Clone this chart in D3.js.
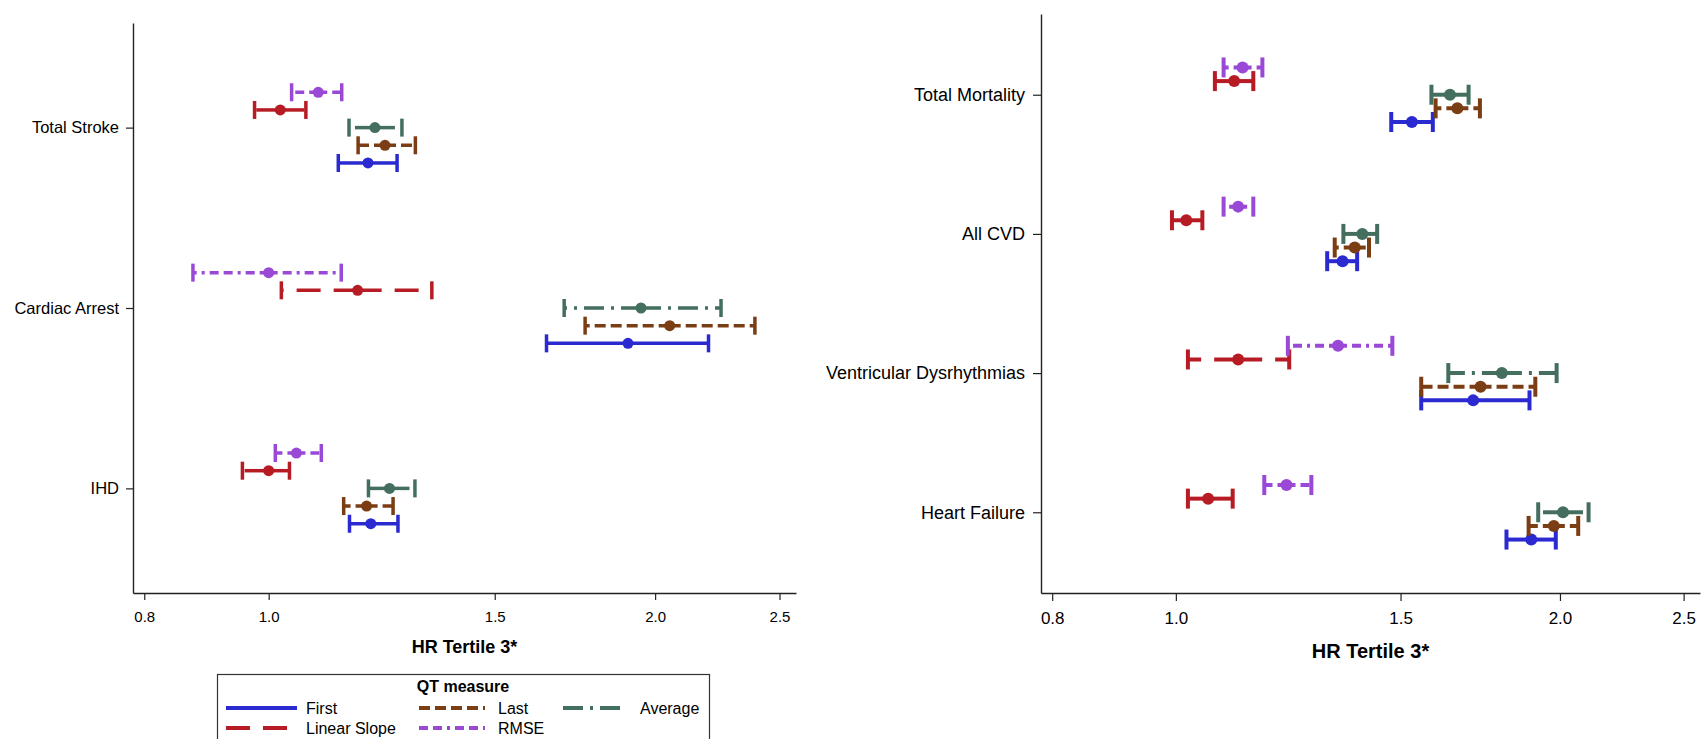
<!DOCTYPE html>
<html>
<head>
<meta charset="utf-8">
<script src="https://cdn.jsdelivr.net/npm/d3@7"></script>
<style>
  body { margin: 0; background: #fff; }
  svg { display: block; }
  text { font-family: "Liberation Sans", Arial, sans-serif; fill: #000; }
</style>
</head>
<body>
<svg width="1703" height="739"></svg>
<script>
const svg = d3.select('svg');

// Hazard ratios: each row is [HR, lower CI, upper CI]
const leftCategories  = ['Total Stroke', 'Cardiac Arrest', 'IHD'];
const rightCategories = ['Total Mortality', 'All CVD', 'Ventricular Dysrhythmias', 'Heart Failure'];
const xTicks   = [0.8, 1.0, 1.5, 2.0, 2.5];
const measures = ['First', 'Last', 'Average', 'Linear Slope', 'RMSE'];

const leftFirst   = [[1.195, 1.133, 1.259], [1.905, 1.646, 2.201], [1.201, 1.156, 1.261]];
const leftLast    = [[1.232, 1.174, 1.301], [2.053, 1.764, 2.392], [1.192, 1.144, 1.250]];
const leftAverage = [[1.210, 1.155, 1.270], [1.950, 1.699, 2.251], [1.242, 1.196, 1.300]];
const leftSlope   = [[1.021, 0.975, 1.069], [1.173, 1.023, 1.340], [1.000, 0.954, 1.038]];
const leftRmse    = [[1.093, 1.042, 1.140], [1.000, 0.873, 1.139], [1.051, 1.012, 1.099]];

const rightFirst   = [[1.531, 1.475, 1.590], [1.351, 1.314, 1.387], [1.710, 1.557, 1.893], [1.899, 1.816, 1.985]];
const rightLast    = [[1.662, 1.598, 1.731], [1.381, 1.332, 1.417], [1.733, 1.557, 1.913], [1.978, 1.890, 2.067]];
const rightAverage = [[1.640, 1.586, 1.696], [1.400, 1.353, 1.438], [1.801, 1.635, 1.988], [2.011, 1.923, 2.106]];
const rightSlope   = [[1.111, 1.073, 1.150], [1.019, 0.993, 1.049], [1.119, 1.022, 1.227], [1.060, 1.022, 1.108]];
const rightRmse    = [[1.128, 1.090, 1.169], [1.119, 1.090, 1.150], [1.340, 1.224, 1.478], [1.221, 1.173, 1.277]];

// Line look of each QT measure (slot = vertical position inside a category, top to bottom)
const styles = {
  'First':        { color: '#2a2ad0', dash: null,             slot: 2 },
  'Last':         { color: '#7b3d14', dash: '11,5',           slot: 1 },
  'Average':      { color: '#446e5d', dash: '20,7,3,7',       slot: 0 },
  'Linear Slope': { color: '#b71c25', dash: '24,13',          slot: -1 },
  'RMSE':         { color: '#9a48d6', dash: '9,5,9,5,3,5',    slot: -2 }
};

/** - - - - - - - - - - - - - - - - - - - - - - - - - - - - - -
 * One forest-plot panel
 ** - - - - - - - - - - - - - - - - - - - - - - - - - - - - - - */
function drawPanel(p) {
  const x = d3.scaleLog().domain([0.784, 2.575]).range(p.xRange);
  const y = d3.scalePoint().domain(p.categories).range(p.yRange).padding(0.58);
  const shift = y.step() * 0.098;

  const g = svg.append('g');

  // axes
  const xAxisG = g.append('g')
    .attr('transform', `translate(0,${p.yRange[1]})`)
    .call(d3.axisBottom(x).tickValues(xTicks).tickFormat(d3.format('.1f'))
      .tickSize(p.tick).tickPadding(p.tickPadX).tickSizeOuter(0));
  const yAxisG = g.append('g')
    .attr('transform', `translate(${p.xRange[0]},0)`)
    .call(d3.axisLeft(y).tickSize(p.tick).tickPadding(p.tickPadY).tickSizeOuter(0));

  [xAxisG, yAxisG].forEach(a => {
    a.select('.domain').attr('stroke', '#222').attr('stroke-width', 1.4);
    a.selectAll('.tick line').attr('stroke', '#222').attr('stroke-width', 1.2);
    a.selectAll('text').attr('fill', '#000').style('font-family', '"Liberation Sans", Arial, sans-serif');
  });
  xAxisG.selectAll('text').style('font-size', p.tickFont + 'px');
  yAxisG.selectAll('text').style('font-size', p.catFont + 'px');

  g.append('text')
    .attr('x', (p.xRange[0] + p.xRange[1]) / 2)
    .attr('y', p.labelY)
    .attr('text-anchor', 'middle')
    .style('font-size', p.labelFont + 'px')
    .style('font-weight', 'bold')
    .text('HR Tertile 3*');

  // error bars
  measures.forEach(m => {
    const st = styles[m];
    const rows = p.series[m].map((d, i) => ({ cat: p.categories[i], hr: d[0], lo: d[1], hi: d[2] }));
    const sg = g.append('g').attr('stroke', st.color).attr('fill', st.color);

    rows.forEach(d => {
      const cy = y(d.cat) + st.slot * shift;
      [d.lo, d.hi].forEach(end => {
        sg.append('line')
          .attr('x1', x(d.hr)).attr('x2', x(end))
          .attr('y1', cy).attr('y2', cy)
          .attr('stroke-width', p.lw)
          .attr('stroke-dasharray', st.dash);
        sg.append('line')
          .attr('x1', x(end)).attr('x2', x(end))
          .attr('y1', cy - p.cap).attr('y2', cy + p.cap)
          .attr('stroke-width', p.lw);
      });
      sg.append('circle')
        .attr('cx', x(d.hr)).attr('cy', cy)
        .attr('r', p.r).attr('stroke', 'none');
    });
  });
}

drawPanel({
  categories: leftCategories,
  series: { 'First': leftFirst, 'Last': leftLast, 'Average': leftAverage, 'Linear Slope': leftSlope, 'RMSE': leftRmse },
  xRange: [133, 796], yRange: [23, 593],
  tick: 7, tickPadX: 11, tickPadY: 7,
  tickFont: 15, catFont: 16.5, labelFont: 18, labelY: 653,
  lw: 3.5, cap: 9, r: 5.5
});

drawPanel({
  categories: rightCategories,
  series: { 'First': rightFirst, 'Last': rightLast, 'Average': rightAverage, 'Linear Slope': rightSlope, 'RMSE': rightRmse },
  xRange: [1041, 1700], yRange: [14, 593],
  tick: 8, tickPadX: 11, tickPadY: 8,
  tickFont: 17, catFont: 18, labelFont: 20, labelY: 658,
  lw: 4, cap: 10, r: 6
});

/** - - - - - - - - - - - - - - - - - - - - - - - - - - - - - -
 * Legend (box runs past the bottom edge, as in the original)
 ** - - - - - - - - - - - - - - - - - - - - - - - - - - - - - - */
const legendLayout = [
  { m: 'First',        col: 0, row: 0 },
  { m: 'Last',         col: 1, row: 0 },
  { m: 'Average',      col: 2, row: 0 },
  { m: 'Linear Slope', col: 0, row: 1 },
  { m: 'RMSE',         col: 1, row: 1 }
];
const colLineX = [226, 419, 563];
const colLineW = [71, 66, 60];
const colTextX = [306, 498, 640];
const rowY = [708, 728];

const legend = svg.append('g');
legend.append('rect')
  .attr('x', 217.5).attr('y', 674.5).attr('width', 492).attr('height', 90)
  .attr('fill', 'none').attr('stroke', '#333').attr('stroke-width', 1.2);
legend.append('text')
  .attr('x', 463).attr('y', 692)
  .attr('text-anchor', 'middle')
  .style('font-size', '16px').style('font-weight', 'bold')
  .text('QT measure');

legendLayout.forEach(d => {
  const st = styles[d.m];
  legend.append('line')
    .attr('x1', colLineX[d.col]).attr('x2', colLineX[d.col] + colLineW[d.col])
    .attr('y1', rowY[d.row]).attr('y2', rowY[d.row])
    .attr('stroke', st.color).attr('stroke-width', 4)
    .attr('stroke-dasharray', st.dash);
  legend.append('text')
    .attr('x', colTextX[d.col]).attr('y', rowY[d.row])
    .attr('dy', '0.35em')
    .style('font-size', '16px')
    .text(d.m);
});
</script>
</body>
</html>
